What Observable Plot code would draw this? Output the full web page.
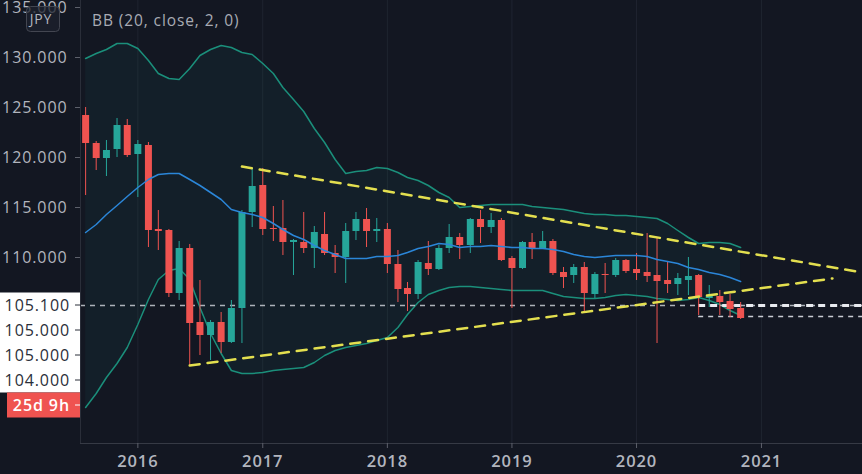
<!DOCTYPE html>
<html><head><meta charset="utf-8">
<script src="https://cdn.jsdelivr.net/npm/d3@7"></script>
<script src="https://cdn.jsdelivr.net/npm/@observablehq/plot@0.6"></script>
<style>
html,body{margin:0;padding:0;background:#131722;}
#chart{position:relative;width:862px;height:474px;overflow:hidden;}
#chart svg text{letter-spacing:0.9px;}
</style></head><body><div id="chart"></div>
<script>
// ---- data (USD/JPY monthly) ----
const months = ["2015-08","2015-09","2015-10","2015-11","2015-12",
"2016-01","2016-02","2016-03","2016-04","2016-05","2016-06","2016-07","2016-08","2016-09","2016-10","2016-11","2016-12",
"2017-01","2017-02","2017-03","2017-04","2017-05","2017-06","2017-07","2017-08","2017-09","2017-10","2017-11","2017-12",
"2018-01","2018-02","2018-03","2018-04","2018-05","2018-06","2018-07","2018-08","2018-09","2018-10","2018-11","2018-12",
"2019-01","2019-02","2019-03","2019-04","2019-05","2019-06","2019-07","2019-08","2019-09","2019-10","2019-11","2019-12",
"2020-01","2020-02","2020-03","2020-04","2020-05","2020-06","2020-07","2020-08","2020-09","2020-10","2020-11"];
const open  = [124.2,121.4,119.9,120.8,123.2, 120.3,121.2,112.8,112.7,106.4,110.9,103.5,102.2,103.5,101.5,104.9,114.5,
117.2,112.9,112.9,111.5,111.5,110.9,112.3,110.4,110.0,112.6,113.8,112.6, 112.8,109.3,106.9,106.3,109.4,108.8,110.9,112.0,111.2,113.8,113.0,113.7,
109.9,108.9,111.5,110.9,111.6,108.5,108.2,109.0,106.3,108.3,108.2,109.7, 108.8,108.5,108.2,107.7,107.3,107.7,108.2,105.9,106.1,105.6,104.9];
const high  = [125.0,121.6,121.7,123.9,123.8, 121.7,121.5,114.7,112.8,111.6,111.3,107.7,103.7,104.5,105.7,114.7,118.9,
118.9,115.1,115.7,111.8,114.5,113.1,114.5,111.2,113.4,114.5,114.9,113.9, 113.4,110.7,107.5,109.7,111.6,111.2,113.3,112.4,113.9,114.7,114.4,113.9,
110.1,111.6,112.4,112.6,111.8,109.0,109.3,109.5,108.5,109.4,109.9,109.8, 110.4,112.4,111.9,109.5,108.4,110.0,108.3,107.2,106.7,106.3,105.5];
const low   = [116.2,118.7,118.1,120.0,120.0, 116.0,111.0,110.7,106.0,105.7,99.2,100.2,99.7,100.4,101.4,101.4,113.0,
112.2,111.6,110.2,108.2,110.4,108.9,110.2,108.4,107.4,111.7,111.0,111.5, 108.4,105.5,104.6,105.8,108.2,108.7,110.4,109.8,110.4,111.4,112.4,109.6,
104.9,108.8,109.8,110.8,108.2,106.9,107.4,104.6,105.9,106.4,108.0,108.4, 107.7,107.5,101.4,106.4,106.2,106.2,104.2,105.0,104.2,104.0,103.8];
const close = [121.4,119.9,120.7,123.2,120.2, 121.3,112.7,112.6,106.4,110.9,103.4,102.2,103.5,101.5,104.9,114.5,117.1,
112.8,112.8,111.5,111.7,110.9,112.5,110.4,110.0,112.6,113.8,112.6,112.8, 109.3,106.8,106.3,109.5,108.8,110.9,112.0,111.2,113.8,113.0,113.7,109.7,
108.9,111.5,110.9,111.6,108.4,108.0,109.0,106.4,108.3,108.2,109.7,108.6, 108.4,108.1,107.6,107.3,107.9,108.1,106.0,106.1,105.5,104.8,103.9];
// Bollinger Bands (20, close, 2)
const bbUpper = [129.9,130.4,130.8,131.4,131.4, 130.9,129.7,128.4,127.9,127.8,128.9,130.2,130.8,131.2,131.0,130.5,130.3,
129.4,128.4,127.0,125.8,124.6,122.9,121.5,119.8,118.4,118.6,118.7,119.0, 118.9,118.5,118.0,117.7,117.2,116.5,116.0,115.0,115.1,115.2,115.3,115.3,
115.3,115.3,115.1,115.0,114.9,114.8,114.6,114.4,114.3,114.3,114.2,114.2, 114.1,114.0,113.9,113.4,112.7,112.0,111.4,111.5,111.5,111.4,111.0];
const bbBasis = [112.5,113.3,114.3,115.2,116.1, 117.0,117.8,118.3,118.4,118.4,117.8,117.2,116.5,115.8,114.8,114.5,114.3,
114.0,113.4,112.8,112.2,111.8,111.2,110.7,110.3,109.9,109.9,109.9,110.1, 110.1,110.2,110.5,110.9,111.1,111.4,111.3,111.0,111.1,111.1,111.2,111.1,
111.0,111.0,110.9,110.9,110.8,110.6,110.3,110.1,110.0,110.1,110.2,110.2, 110.2,110.1,109.8,109.6,109.4,109.0,108.8,108.5,108.3,108.0,107.6];
const bbLower = [95.0,96.4,98.0,99.4,101.0, 103.3,105.8,107.8,108.7,108.9,107.8,105.0,102.4,100.4,98.7,98.4,98.4,
98.5,98.7,98.8,98.9,99.0,99.5,100.2,100.7,101.0,101.2,101.4,101.7, 102.0,103.0,104.3,105.5,106.3,106.7,107.0,107.1,107.1,107.0,106.9,106.8,
106.7,106.7,106.7,106.7,106.4,106.1,106.0,105.9,105.9,106.0,106.2,106.3, 106.2,106.1,105.9,105.8,105.7,105.8,106.0,105.7,105.3,104.7,104.2];
// drawn trend lines (yellow dashed)
const trendUpperDates = ["2016-11-01","2021-10-24"];
const trendUpperValues = [119.1,108.5];
const trendLowerDates = ["2016-06-01","2021-07-28"];
const trendLowerValues = [99.2,107.9];
// horizontal price lines
const priceLineFull = [105.2];
const priceLinePartial = [104.1];
const priceLinePartialFrom = "2020-07-01";
// axis ticks
const priceTicks = [135,130,125,120,115,110];
const yearTicks = ["2016-01-01","2017-01-01","2018-01-01","2019-01-01","2020-01-01","2021-01-01"];
const xDomain = ["2015-07-17","2021-10-24"];
const yDomain = [91.4,135.7];
// price-scale overlay labels
const overlayLabels = ["105.100","105.000","105.000","104.000"];
const overlayAt = [105.2,102.7,100.2,97.7];
const countdownLabel = "25d 9h";
const countdownAt = 95.2;
const symbolLabel = "JPY";
const indicatorLabel = "BB (20, close, 2, 0)";

// ---- build ----
const GREEN = "#26a69a", RED = "#ef5350";
const FONT = "'Open Sans', sans-serif";
const data = months.map((m,i)=>({date:new Date(m+"-01"), open:open[i], high:high[i], low:low[i], close:close[i],
  upper:bbUpper[i], basis:bbBasis[i], lower:bbLower[i]}));
const up = data.filter(d=>d.close>=d.open), down = data.filter(d=>d.close<d.open);
const tU = trendUpperDates.map((d,i)=>({date:new Date(d), v:trendUpperValues[i]}));
const tL = trendLowerDates.map((d,i)=>({date:new Date(d), v:trendLowerValues[i]}));
const years = yearTicks.map(d=>new Date(d));
const xEnd = new Date(xDomain[1]);

const plot = Plot.plot({
  width: 862, height: 474,
  marginLeft: 80, marginRight: 0, marginTop: 0, marginBottom: 31,
  style: {background:"#131722", color:"#b2b5be", fontFamily:FONT, fontSize:"16px"},
  x: {type:"utc", domain: xDomain.map(d=>new Date(d))},
  y: {domain: yDomain},
  marks: [
    Plot.ruleX(years, {stroke:"#1f2430", strokeWidth:1}),
    Plot.areaY(data, {x:"date", y1:"lower", y2:"upper", fill:GREEN, fillOpacity:0.06}),
    Plot.line(data, {x:"date", y:"upper", stroke:"#1b8f7b", strokeWidth:1.5}),
    Plot.line(data, {x:"date", y:"lower", stroke:"#1b8f7b", strokeWidth:1.5}),
    Plot.ruleY(priceLineFull, {stroke:"#c9ccd4", strokeWidth:1.5, strokeDasharray:"5,5", strokeOpacity:0.85}),
    Plot.ruleY(priceLineFull, {x1:new Date(priceLinePartialFrom), x2:xEnd, stroke:"#e8eaef", strokeWidth:3, strokeDasharray:"7,5"}),
    Plot.ruleY(priceLinePartial, {x1:new Date(priceLinePartialFrom), x2:xEnd, stroke:"#c9ccd4", strokeWidth:1.5, strokeDasharray:"5,5"}),
    Plot.ruleX(up, {x:"date", y1:"low", y2:"high", stroke:GREEN, strokeWidth:1}),
    Plot.ruleX(down, {x:"date", y1:"low", y2:"high", stroke:RED, strokeWidth:1}),
    Plot.ruleX(up, {x:"date", y1:"open", y2:"close", stroke:GREEN, strokeWidth:7}),
    Plot.ruleX(down, {x:"date", y1:"open", y2:"close", stroke:RED, strokeWidth:7}),
    Plot.line(data, {x:"date", y:"basis", stroke:"#2b86d8", strokeWidth:1.5}),
    Plot.line(tU, {x:"date", y:"v", stroke:"#e3df4f", strokeWidth:2.5, strokeDasharray:"10,8"}),
    Plot.line(tL, {x:"date", y:"v", stroke:"#e3df4f", strokeWidth:2.5, strokeDasharray:"10,8"}),
    Plot.frame({anchor:"left", stroke:"#2a2e39"}),
    Plot.frame({anchor:"bottom", stroke:"#363a45"}),
    Plot.axisY(priceTicks, {anchor:"left", tickFormat:d=>d.toFixed(3), tickSize:5, tickPadding:8, fontSize:16, stroke:"#5d606b", fill:"#b2b5be", label:null}),
    Plot.axisX(years, {anchor:"bottom", tickFormat:d3.utcFormat("%Y"), tickSize:5, tickPadding:7, fontSize:16.5, fontWeight:600, stroke:"#5d606b", fill:"#b2b5be", label:null})
  ]
});

// overlay labels on the price scale, positioned with the plot's own y scale
const svg = d3.select(plot);
const yS = plot.scale("y");
const ov = svg.append("g").attr("font-family",FONT).attr("font-size",16);
const yTop = yS.apply(overlayAt[0]) - 12.5, yBot = yS.apply(overlayAt[overlayAt.length-1]) + 12.5;
ov.append("rect").attr("x",0).attr("y",yTop).attr("width",80).attr("height",yBot-yTop).attr("fill","#ffffff");
overlayLabels.forEach((t,i)=>{
  const yy = yS.apply(overlayAt[i]);
  ov.append("line").attr("x1",75).attr("x2",80).attr("y1",yy).attr("y2",yy).attr("stroke","#2a2e39");
  ov.append("text").attr("x",70).attr("y",yy).attr("dy","0.35em").attr("text-anchor","end").attr("fill","#2a2e39").text(t);
});
const yc = yS.apply(countdownAt);
ov.append("rect").attr("x",7).attr("y",yc-12.5).attr("width",73).attr("height",25).attr("fill","#ef5350");
ov.append("line").attr("x1",75).attr("x2",80).attr("y1",yc).attr("y2",yc).attr("stroke","#ffffff");
ov.append("text").attr("x",70).attr("y",yc).attr("dy","0.35em").attr("text-anchor","end").attr("fill","#ffffff").attr("font-weight",600).text(countdownLabel);
// legend: symbol box + indicator name
ov.append("rect").attr("x",26.5).attr("y",6.5).attr("width",33).attr("height",25).attr("rx",4)
  .attr("fill","#1e222d").attr("fill-opacity",0.75).attr("stroke","#434651");
ov.append("text").attr("x",41).attr("y",19).attr("dy","0.35em").attr("text-anchor","middle").attr("font-size",14).attr("fill","#b2b5be").text(symbolLabel);
ov.append("text").attr("x",92).attr("y",21).attr("dy","0.35em").attr("text-anchor","start").attr("font-size",15.5).attr("fill","#a8abb4").text(indicatorLabel);

document.getElementById("chart").appendChild(plot);
</script></body></html>
